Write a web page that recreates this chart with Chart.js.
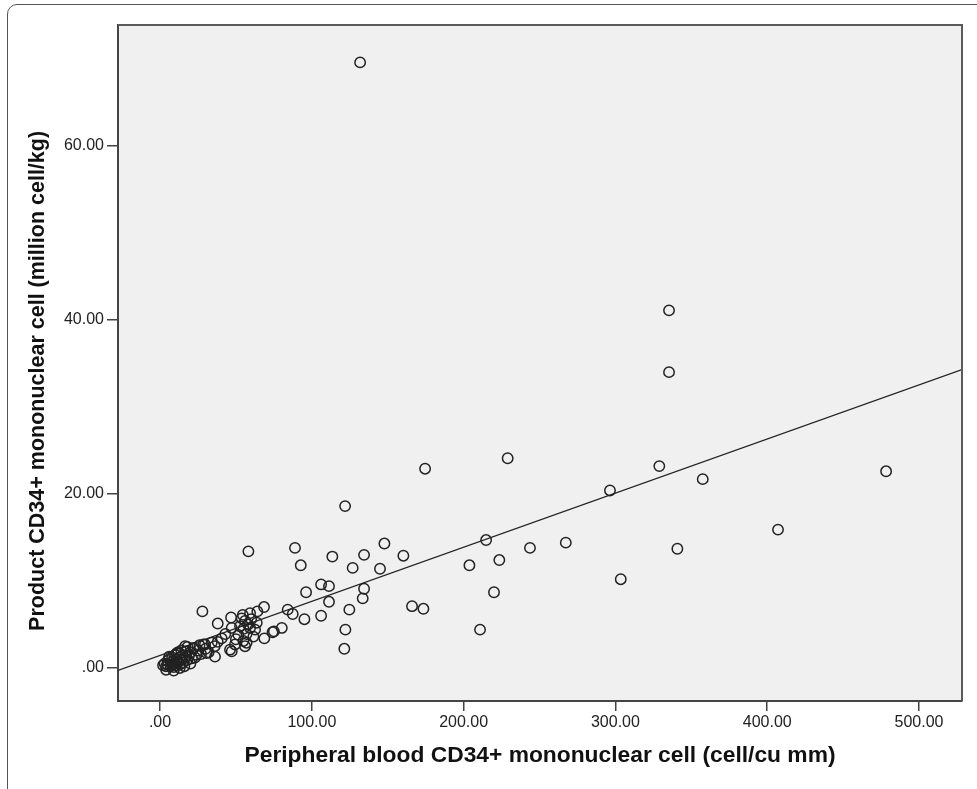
<!DOCTYPE html>
<html>
<head>
<meta charset="utf-8">
<script src="https://cdn.jsdelivr.net/npm/chart.js@4/dist/chart.umd.min.js"></script>
<style>
  html, body { margin: 0; padding: 0; background: #fff; overflow: hidden; }
  #frame {
    position: absolute; left: 7px; top: 4px; width: 1100px; height: 1000px;
    border: 1.5px solid #555; border-radius: 10px;
  }
  #wrap { position: absolute; left: 0; top: 0; width: 977px; height: 789px; }
</style>
</head>
<body>
<div id="frame"></div>
<div id="wrap"><canvas id="chart" width="977" height="789"></canvas></div>
<script>
// peripheral blood CD34+ (cell/cu mm)
const bloodCD34 = [
  131.8, 335.3, 335.3, 229.0, 174.6, 478.3, 328.9, 357.5, 296.4, 121.9,
  407.1, 340.8, 303.5, 267.3, 243.7, 214.8, 223.5, 203.8, 220.0, 210.8,
  173.5, 166.0, 160.3, 147.8, 144.9, 134.4, 126.9, 134.4, 133.5, 124.7,
  122.1, 121.4, 113.5, 111.3, 106.1, 111.3, 106.1, 96.2, 92.7, 88.9,
  95.1, 84.1, 87.4, 58.2, 68.5, 64.1, 59.3, 80.2, 74.1, 68.7,
  62.6, 27.9, 38.0, 46.8, 53.8, 46.1, 36.2, 40.6, 34.0, 28.5,
  22.0, 16.5, 47.2, 51.6, 54.9, 56.0, 52.7, 59.3, 61.5, 63.7,
  54.5, 75.0, 49.4, 47.2, 29.6, 30.7, 43.0, 50.0, 55.0, 57.0,
  58.0, 56.0, 57.0, 60.0,
  2, 3, 4, 5, 5, 6, 7, 7, 8, 8,
  9, 9, 10, 10, 11, 11, 12, 12, 13, 13,
  14, 14, 15, 15, 16, 17, 18, 19, 20, 21,
  22, 24, 25, 27, 30, 32, 36, 38,
  4, 6, 9, 11, 13, 16, 18, 20, 23, 26
];
// product CD34+ (million cell/kg)
const productCD34 = [
  69.6, 41.1, 34.0, 24.1, 22.9, 22.6, 23.2, 21.7, 20.4, 18.6,
  15.9, 13.7, 10.2, 14.4, 13.8, 14.7, 12.4, 11.8, 8.7, 4.4,
  6.8, 7.1, 12.9, 14.3, 11.4, 13.0, 11.5, 9.1, 8.0, 6.7,
  4.4, 2.2, 12.8, 9.4, 9.6, 7.6, 6.0, 8.7, 11.8, 13.8,
  5.6, 6.7, 6.2, 13.4, 7.0, 6.5, 6.3, 4.6, 4.1, 3.4,
  4.4, 6.5, 5.1, 5.8, 5.7, 2.1, 1.3, 3.4, 2.9, 2.7,
  2.3, 2.5, 4.6, 3.8, 3.1, 2.5, 4.8, 4.6, 3.6, 5.2,
  6.1, 4.2, 2.7, 1.9, 2.7, 1.7, 3.9, 3.3, 4.5, 3.9,
  5.0, 5.4, 2.9, 5.6,
  0.3, 0.5, 0.2, 0.8, 0.4, 1.0, 0.6, 0.2, 1.2, 0.4,
  0.8, 0.1, 1.5, 0.5, 1.0, 0.3, 1.8, 0.7, 1.2, 0.4,
  2.0, 0.9, 1.5, 0.6, 1.1, 1.9, 0.9, 1.4, 1.8, 1.1,
  2.2, 1.5, 2.0, 1.6, 2.2, 1.8, 2.5, 3.0,
  -0.2, 1.3, -0.3, 1.7, 0.0, 0.2, 2.4, 0.5, 1.2, 2.6
];
// fitted line end points
const fitX = [-27.7, 528.3];
const fitY = [-0.28, 34.3];

const xTicks = [0, 100, 200, 300, 400, 500];
const yTicks = [0, 20, 40, 60];
const xRange = [-27.7, 528.3];
const yRange = [-3.8, 73.9];

const fmt = (v) => (v === 0 ? ".00" : v.toFixed(2));

// plot area background and box
const plotBox = {
  id: "plotBox",
  beforeDraw(chart) {
    const { ctx, chartArea: a } = chart;
    ctx.save();
    ctx.fillStyle = "#f0f0f0";
    ctx.fillRect(a.left, a.top, a.right - a.left, a.bottom - a.top);
    ctx.restore();
  },
  afterDraw(chart) {
    const { ctx, chartArea: a } = chart;
    ctx.save();
    ctx.strokeStyle = "#5a5a5a";
    ctx.lineWidth = 2;
    ctx.beginPath();
    ctx.moveTo(a.left, a.top);
    ctx.lineTo(a.right, a.top);
    ctx.lineTo(a.right, a.bottom);
    ctx.stroke();
    ctx.restore();
  },
};

const points = bloodCD34.map((x, i) => ({ x, y: productCD34[i] }));
const line = fitX.map((x, i) => ({ x, y: fitY[i] }));

new Chart(document.getElementById("chart"), {
  type: "scatter",
  data: {
    datasets: [
      {
        data: points,
        pointRadius: 5.2,
        pointBorderWidth: 1.5,
        borderColor: "#222",
        backgroundColor: "rgba(0,0,0,0)",
      },
      {
        type: "line",
        data: line,
        borderColor: "#222",
        borderWidth: 1.3,
        pointRadius: 0,
        fill: false,
      },
    ],
  },
  options: {
    responsive: false,
    animation: false,
    layout: { padding: { top: 25, right: 15, left: 0, bottom: 0 } },
    plugins: { legend: { display: false }, tooltip: { enabled: false } },
    scales: {
      x: {
        type: "linear",
        min: xRange[0],
        max: xRange[1],
        afterBuildTicks: (s) => { s.ticks = xTicks.map((v) => ({ value: v })); },
        afterFit: (s) => { s.height = 88; },
        grid: { drawOnChartArea: false, drawTicks: true, tickLength: 10, color: "#444", lineWidth: 1.5 },
        border: { display: true, color: "#444", width: 2 },
        ticks: {
          callback: (v) => fmt(v),
          color: "#222",
          padding: 2,
          maxRotation: 0,
          font: { family: "'Liberation Sans', Arial, sans-serif", size: 16 },
        },
        title: {
          display: true,
          text: "Peripheral blood CD34+ mononuclear cell (cell/cu mm)",
          color: "#111",
          padding: { top: 0, bottom: 20 },
          font: { family: "'Liberation Sans', Arial, sans-serif", size: 22.8, weight: "bold" },
        },
      },
      y: {
        type: "linear",
        min: yRange[0],
        max: yRange[1],
        afterBuildTicks: (s) => { s.ticks = yTicks.map((v) => ({ value: v })); },
        afterFit: (s) => { s.width = 118; },
        grid: { drawOnChartArea: false, drawTicks: true, tickLength: 11, color: "#444", lineWidth: 1.5 },
        border: { display: true, color: "#444", width: 2 },
        ticks: {
          callback: (v) => fmt(v),
          color: "#222",
          padding: 3,
          font: { family: "'Liberation Sans', Arial, sans-serif", size: 16 },
        },
        title: {
          display: true,
          // trailing spaces push the title a bit lower, as in the original
          text: "Product CD34+ mononuclear cell (million cell/kg)      ",
          color: "#111",
          padding: { top: 25, bottom: 0 },
          font: { family: "'Liberation Sans', Arial, sans-serif", size: 21.5, weight: "bold" },
        },
      },
    },
  },
  plugins: [plotBox],
});
</script>
</body>
</html>
